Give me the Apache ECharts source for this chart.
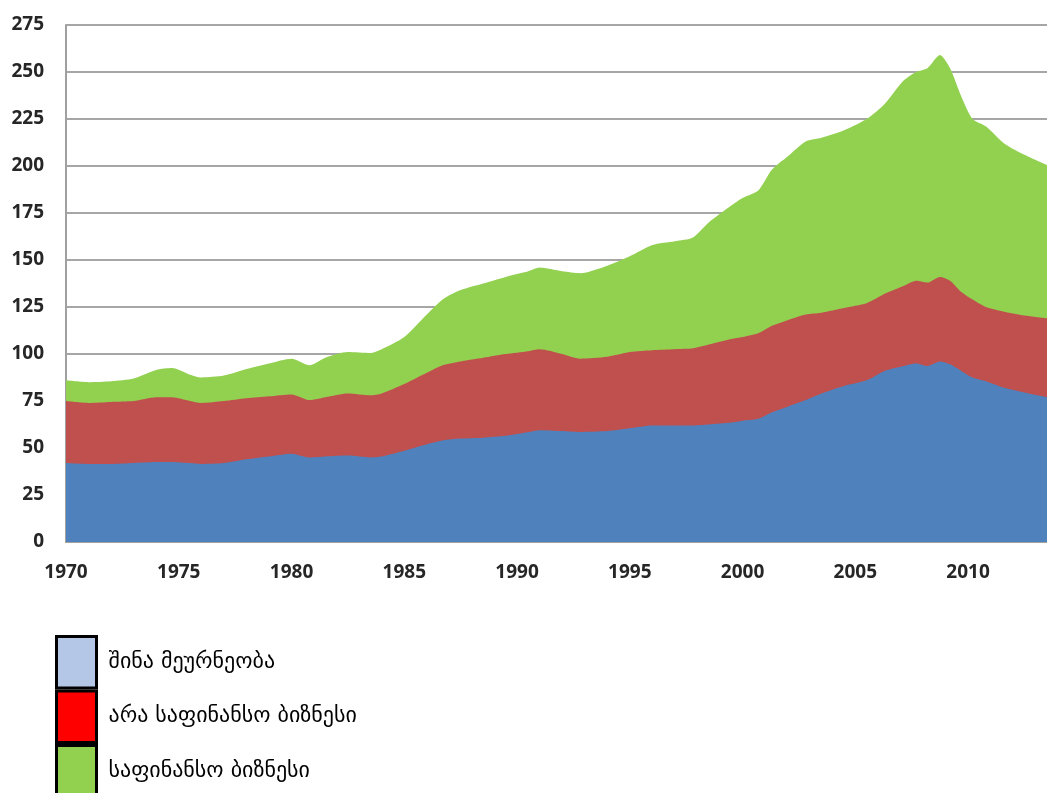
<!DOCTYPE html>
<html>
<head>
<meta charset="utf-8">
<script src="https://cdn.jsdelivr.net/npm/echarts@6/dist/echarts.min.js"></script>
<style>
  html, body { margin: 0; padding: 0; background: #fff; }
  #chart { width: 1047px; height: 793px; }
</style>
</head>
<body>
<div id="chart"></div>
<script>
// x positions (years)
var years = [1970, 1971, 1972, 1973, 1974, 1974.7, 1975.5, 1976, 1977, 1978,
    1979, 1980, 1980.8, 1981.5, 1982.5, 1983.5, 1984, 1985, 1986, 1986.7,
    1987.5, 1988.5, 1989.5, 1990.5, 1991, 1992, 1992.8, 1994, 1995, 1996,
    1997, 1997.8, 1998.5, 1999.5, 2000, 2000.7, 2001.3, 2002, 2002.8, 2003.5,
    2004.5, 2005.5, 2006.3, 2007.1, 2007.7, 2008.2, 2008.75, 2009.2, 2009.7, 2010.2,
    2010.8, 2011.6, 2012.5, 2013.5];

// household sector
var household = [42, 41.5, 41.5, 42, 42.5, 42.6, 42, 41.5, 42, 44,
    45.5, 47, 45, 45.5, 46, 45, 45.5, 48.5, 52, 54,
    55, 55.5, 56.5, 58.5, 59.5, 59, 58.5, 59, 60.5, 62,
    62, 62, 62.5, 63.5, 64.5, 65.5, 69, 72, 75.5, 79,
    83, 86, 91, 93.5, 95, 93.6, 96, 94.5, 91, 87.5,
    85.5, 82, 79.5, 77];

// non-financial business
var nonFinancial = [33, 32.5, 33, 33, 34.5, 34.4, 33, 32.5, 33, 32.5,
    32, 31.5, 30.5, 31.5, 33, 33, 33.5, 35.5, 38, 40,
    41, 42.5, 43.5, 43, 43, 41, 39, 39.5, 40.5, 40,
    40.5, 41, 42.5, 44.5, 44.5, 45.5, 46, 46, 45.5, 43,
    41.5, 41, 41, 42.5, 44, 44.4, 45, 44.5, 42, 41.5,
    39.5, 40.5, 41, 42];

// financial business
var financial = [11, 11, 11, 12, 14.5, 15.5, 14, 13.5, 13.5, 15.5,
    17.5, 19, 18.5, 21, 22, 22.5, 23.5, 25, 31, 35,
    38, 39.5, 41, 42.5, 43.5, 44, 45.5, 48.5, 51, 56,
    57.5, 59, 65, 71, 74, 76, 83, 87, 92, 93,
    94.5, 98, 101, 109, 111, 114, 118, 113, 104, 96,
    96, 89.5, 85.5, 81.5];

var seriesNames = ['შინა მეურნეობა', 'არა საფინანსო ბიზნესი', 'საფინანსო ბიზნესი'];
var areaColors = ['#4f81bd', '#c0504d', '#92d050'];
var legendColors = ['#b4c7e7', '#ff0000', '#92d050'];

var chart = echarts.init(document.getElementById('chart'), null, { renderer: 'canvas' });

// stack by hand: each area is drawn from zero up to its running total,
// later layers go underneath so the lower ones stay visible
var seriesValues = [household, nonFinancial, financial];
var running = years.map(function () { return 0; });
var series = [];
var legendData = [];
for (var s = 0; s < seriesNames.length; s++) {
    var pts = [];
    for (var i = 0; i < years.length; i++) {
        running[i] += seriesValues[s][i];
        pts.push([years[i], running[i]]);
    }
    series.push({
        name: seriesNames[s],
        type: 'line',
        z: 10 - s,
        symbol: 'none',
        smooth: 0.25,
        lineStyle: { width: 0 },
        areaStyle: { color: areaColors[s], opacity: 1, origin: 'start' },
        itemStyle: { color: areaColors[s] },
        data: pts
    });
    legendData.push({
        name: seriesNames[s],
        icon: 'rect',
        itemStyle: { color: legendColors[s], borderColor: '#000', borderWidth: 3 }
    });
}

var axisFont = {
    fontFamily: 'Open Sans',
    fontWeight: 'bold',
    fontSize: 19,
    color: '#262626'
};

chart.setOption({
    animation: false,
    backgroundColor: '#fff',
    grid: { left: 66, top: 25, right: 0, bottom: 251, containLabel: false },
    legend: {
        orient: 'vertical',
        left: 50,
        top: 630,
        height: 240,
        itemWidth: 40,
        itemHeight: 51.5,
        itemGap: 0,
        selectedMode: false,
        data: legendData,
        textStyle: {
            fontFamily: 'DejaVu Sans',
            fontSize: 22,
            color: '#000',
            padding: [0, 0, 0, 7]
        }
    },
    xAxis: {
        type: 'value',
        min: 1970,
        max: 2013.5,
        interval: 5,
        axisLine: { show: true, lineStyle: { color: '#a0a0a0', width: 2 } },
        axisTick: { show: false },
        splitLine: { show: false },
        axisLabel: Object.assign({
            margin: 21,
            showMaxLabel: false,
            formatter: function (v) { return String(v); }
        }, axisFont)
    },
    yAxis: {
        type: 'value',
        min: 0,
        max: 275,
        interval: 25,
        axisLine: { show: true, lineStyle: { color: '#a0a0a0', width: 2 } },
        axisTick: { show: false },
        splitLine: { show: true, lineStyle: { color: '#a6a6a6', width: 2 } },
        axisLabel: Object.assign({ margin: 22 }, axisFont)
    },
    series: series
});
</script>
</body>
</html>
